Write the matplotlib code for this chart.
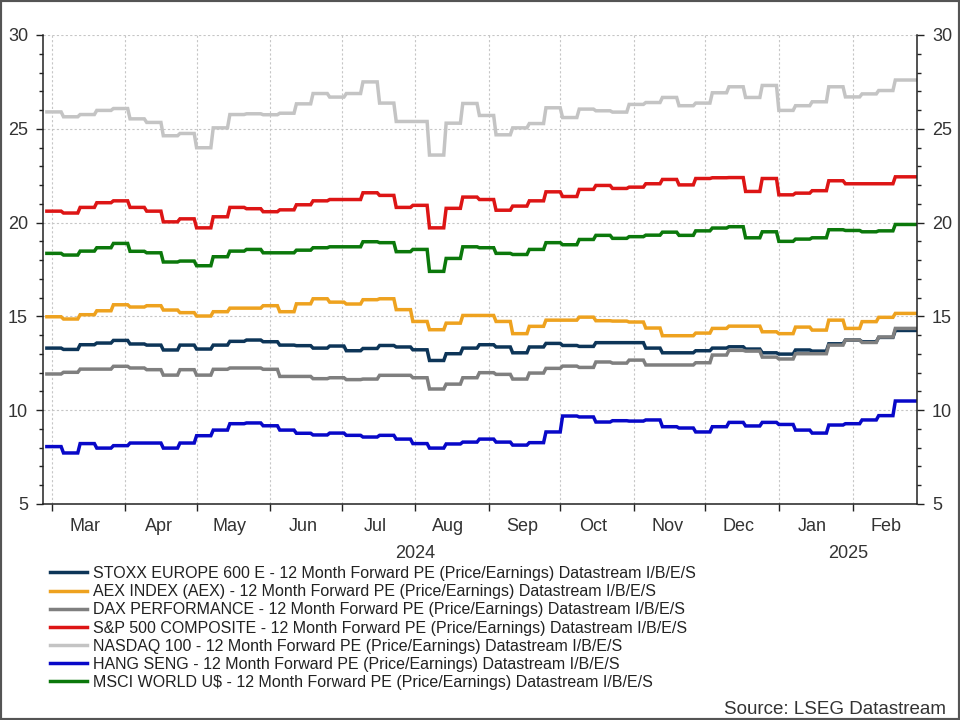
import matplotlib
matplotlib.use("Agg")
import matplotlib.pyplot as plt
import matplotlib.dates as mdates
from matplotlib.patches import Rectangle
import pandas as pd

plt.rcParams['font.family'] = ['Liberation Sans', 'DejaVu Sans']

# Weekly forward PE readings (one value per week, starting Wed 28 Feb 2024)
week_start = pd.Timestamp("2024-02-28")
n_weeks = 52
end_date = pd.Timestamp("2025-02-28")

stoxx = [13.31, 13.24, 13.49, 13.58, 13.72, 13.53, 13.47, 13.21, 13.47, 13.26,
         13.47, 13.67, 13.74, 13.65, 13.47, 13.44, 13.31, 13.42, 13.17, 13.29,
         13.45, 13.37, 13.22, 12.65, 13.01, 13.31, 13.49, 13.37, 13.06, 13.37,
         13.56, 13.45, 13.40, 13.60, 13.60, 13.60, 13.31, 13.06, 13.06, 13.17,
         13.31, 13.38, 13.26, 13.06, 12.99, 13.21, 13.15, 13.54, 13.74, 13.65,
         13.88, 14.25]
aex = [14.98, 14.86, 15.09, 15.30, 15.62, 15.50, 15.57, 15.34, 15.20, 15.02,
       15.25, 15.44, 15.44, 15.57, 15.25, 15.67, 15.94, 15.76, 15.66, 15.89,
       15.94, 15.36, 14.73, 14.29, 14.64, 15.05, 15.05, 14.73, 14.08, 14.47,
       14.80, 14.80, 14.96, 14.77, 14.75, 14.70, 14.38, 13.97, 13.97, 14.11,
       14.36, 14.48, 14.48, 14.18, 14.08, 14.43, 14.27, 14.80, 14.36, 14.72,
       14.95, 15.16]
dax = [11.93, 12.02, 12.19, 12.19, 12.34, 12.25, 12.16, 11.87, 12.16, 11.87,
       12.18, 12.25, 12.25, 12.18, 11.80, 11.80, 11.68, 11.73, 11.63, 11.66,
       11.86, 11.86, 11.73, 11.13, 11.39, 11.73, 12.00, 11.91, 11.66, 11.98,
       12.23, 12.35, 12.28, 12.57, 12.51, 12.67, 12.41, 12.41, 12.41, 12.53,
       12.94, 13.19, 13.15, 12.83, 12.73, 13.01, 13.01, 13.47, 13.74, 13.61,
       13.90, 14.36]
sp500 = [20.61, 20.51, 20.81, 21.06, 21.16, 20.81, 20.61, 20.04, 20.20, 19.72,
         20.31, 20.81, 20.74, 20.58, 20.68, 20.95, 21.16, 21.23, 21.23, 21.59,
         21.45, 20.81, 20.92, 19.72, 20.76, 21.36, 21.23, 20.66, 20.88, 21.16,
         21.64, 21.39, 21.77, 21.98, 21.82, 21.89, 22.07, 22.30, 22.01, 22.35,
         22.39, 22.40, 21.66, 22.35, 21.48, 21.57, 21.70, 22.23, 22.07, 22.07,
         22.07, 22.44]
nasdaq = [25.90, 25.64, 25.76, 25.98, 26.08, 25.53, 25.34, 24.63, 24.75, 23.99,
          25.05, 25.76, 25.80, 25.75, 25.83, 26.33, 26.88, 26.69, 26.88, 27.50,
          26.37, 25.39, 25.39, 23.60, 25.30, 26.35, 25.71, 24.68, 25.05, 25.28,
          26.12, 25.60, 26.05, 25.96, 25.89, 26.30, 26.40, 26.67, 26.23, 26.37,
          26.92, 27.24, 26.67, 27.31, 25.98, 26.23, 26.44, 27.24, 26.70, 26.86,
          27.04, 27.60]
hang_seng = [8.06, 7.72, 8.22, 7.98, 8.11, 8.25, 8.25, 7.98, 8.25, 8.64,
             8.94, 9.28, 9.32, 9.17, 8.94, 8.77, 8.68, 8.78, 8.66, 8.57,
             8.66, 8.46, 8.22, 7.98, 8.20, 8.30, 8.46, 8.30, 8.14, 8.27,
             8.84, 9.69, 9.64, 9.37, 9.44, 9.42, 9.48, 9.12, 9.05, 8.84,
             9.12, 9.35, 9.16, 9.35, 9.24, 8.94, 8.78, 9.21, 9.28, 9.48,
             9.71, 10.49]
msci = [18.36, 18.27, 18.48, 18.66, 18.89, 18.47, 18.39, 17.90, 17.95, 17.70,
        18.18, 18.48, 18.57, 18.39, 18.39, 18.53, 18.66, 18.71, 18.71, 18.98,
        18.93, 18.45, 18.57, 17.40, 18.09, 18.71, 18.66, 18.36, 18.30, 18.57,
        18.93, 18.82, 19.10, 19.32, 19.16, 19.25, 19.33, 19.49, 19.32, 19.56,
        19.71, 19.78, 19.19, 19.51, 19.00, 19.12, 19.19, 19.62, 19.58, 19.51,
        19.56, 19.90]

suffix = " - 12 Month Forward PE (Price/Earnings) Datastream I/B/E/S"
names = ["STOXX EUROPE 600 E", "AEX INDEX (AEX)", "DAX PERFORMANCE",
         "S&P 500 COMPOSITE", "NASDAQ 100", "HANG SENG", "MSCI WORLD U$"]
series = [stoxx, aex, dax, sp500, nasdaq, hang_seng, msci]
colors = ["#0d3558", "#eea21f", "#7f7f7f", "#dd1515", "#c4c4c4", "#0808c8", "#0b780b"]

weeks = pd.date_range(week_start, periods=n_weeks, freq="7D")


# hold each weekly value until the day before the next update
def stepped(dates, values, last_day):
    xs, ys = [], []
    for i, v in enumerate(values):
        nxt = dates[i + 1] - pd.Timedelta(days=1) if i + 1 < len(dates) else last_day
        xs += [dates[i], nxt]
        ys += [v, v]
    return xs, ys


fig = plt.figure(figsize=(9.6, 7.2), dpi=100)
ax = fig.add_axes([0.0451, 0.30, 0.9098, 0.6514])

for name, vals, col in zip(names, series, colors):
    xs, ys = stepped(weeks, vals, end_date)
    ax.plot(xs, ys, color=col, lw=2.5, label=name + suffix, solid_joinstyle="miter")

ax.set_xlim(pd.Timestamp("2024-02-26 12:00"), pd.Timestamp("2025-02-28"))
ax.set_ylim(5, 30)
ax.set_yticks(range(5, 31, 5))
ax.set_yticks(range(5, 31), minor=True)

# month boundaries as ticks, month names centred in between
ax.xaxis.set_major_locator(mdates.MonthLocator(bymonthday=1))
ax.xaxis.set_major_formatter(plt.NullFormatter())
ax.xaxis.set_minor_locator(mdates.MonthLocator(bymonthday=15))
ax.xaxis.set_minor_formatter(mdates.DateFormatter("%b"))

ax.spines["top"].set_visible(False)
for s in ["left", "right", "bottom"]:
    ax.spines[s].set_color("#222222")
    ax.spines[s].set_linewidth(1.1)

ax.tick_params(axis="y", which="both", direction="out", left=True, right=True,
               labelleft=True, labelright=True, colors="#222222", labelsize=13,
               labelcolor="#333333")
ax.tick_params(axis="y", which="major", length=5, width=1, pad=6)
ax.tick_params(axis="y", which="minor", length=3, width=1)
ax.tick_params(axis="x", which="major", length=5, width=1, colors="#222222")
ax.tick_params(axis="x", which="minor", length=0, pad=10, labelsize=13,
               labelcolor="#333333")

ax.grid(True, which="major", color="#c6c6c6", lw=0.8, ls=(0, (2, 2)))

# year labels under the months of each year
for yr, a, b in [("2024", "2024-03-01", "2025-01-01"), ("2025", "2025-01-01", "2025-02-28")]:
    mid = mdates.date2num(pd.Timestamp(a)) / 2 + mdates.date2num(pd.Timestamp(b)) / 2
    ax.text(mid, -0.105, yr, transform=ax.get_xaxis_transform(), ha="center",
            va="center", fontsize=13, color="#333333")

fig.legend(loc="upper left", bbox_to_anchor=(0.052, 0.214), frameon=False,
           fontsize=11.5, handlelength=2.3, handletextpad=0.4, labelspacing=0.2,
           borderpad=0, borderaxespad=0, labelcolor="#222222")

fig.text(946 / 960, 1 - 714 / 720, "Source: LSEG Datastream", ha="right",
         va="baseline", fontsize=13.5, color="#333333")

fig.patches.append(Rectangle((0, 0), 1, 1, transform=fig.transFigure, fill=False,
                             edgecolor="#555555", lw=3))

fig.savefig("out.png", dpi=100)
